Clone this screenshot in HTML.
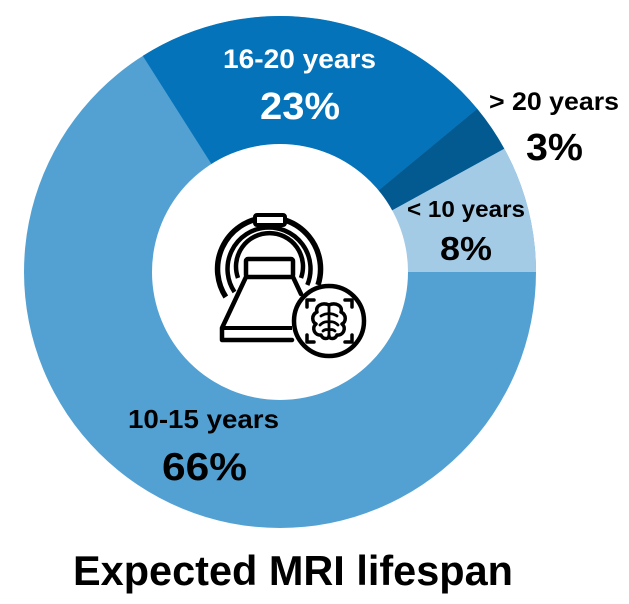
<!DOCTYPE html>
<html><head><meta charset="utf-8">
<style>
html,body{margin:0;padding:0;background:#fff;}
svg{display:block;}
text{font-family:"Liberation Sans",sans-serif;font-weight:bold;}
</style></head>
<body>
<svg width="629" height="604" viewBox="0 0 629 604" xmlns="http://www.w3.org/2000/svg">
<rect width="629" height="604" fill="#fff"/>
<!-- donut -->
<circle cx="280" cy="272" r="256" fill="#53a1d3"/>
<path d="M477.2,108.8 A256,256 0 0 0 142.8,55.9 L280,272 Z" fill="#0473ba"/>
<path d="M504.3,148.7 A256,256 0 0 0 477.2,108.8 L280,272 Z" fill="#035a90"/>
<path d="M536,272 A256,256 0 0 0 504.3,148.7 L280,272 Z" fill="#a4cbe6"/>
<circle cx="280" cy="272" r="128" fill="#fff"/>

<!-- MRI icon -->
<g fill="none" stroke="#000" stroke-linejoin="round">
  <path d="M225.8,297 A51.5,51.5 0 1 1 318,285" stroke-width="5.5"/>
  <path d="M234.5,292 A41.5,41.5 0 1 1 307.3,285" stroke-width="4.5"/>
  <path d="M238,278 A33.5,33.5 0 1 1 301,278" stroke-width="4.5"/>
  <rect x="255" y="215" width="30" height="10" rx="2" fill="#fff" stroke-width="4"/>
  <rect x="246" y="259" width="47" height="18" rx="2" fill="#fff" stroke-width="4.5"/>
  <path d="M246,277 L222,328 L222,340 L292,340 M293,277 L301,294" stroke-width="4.5" stroke-linecap="round"/>
  <path d="M222,328 L292,328" stroke-width="4"/>
  <circle cx="329" cy="321" r="35" fill="#fff" stroke-width="4.5"/>
  <path d="M307,307 L307,300 L314,300 M345,300 L352,300 L352,307 M307,335 L307,342 L314,342 M345,342 L352,342 L352,335" stroke-width="3.5" stroke-linecap="round"/>
  <path d="M329,305 C322,302 315,306 317,312 C311,315 312,322 316,324 C311,328 315,336 321,335 C323,340 329,339 329,336 C329,339 335,340 337,335 C343,336 347,328 342,324 C346,322 347,315 341,312 C343,306 336,302 329,305 Z" stroke-width="3.5"/>
  <path d="M329,306 L329,336 M329,314 C325,313 323,315 321,316 M329,314 C333,313 335,315 337,316 M329,322 C325,321 322,323 320,325 M329,322 C333,321 336,323 338,325 M329,330 C326,329 324,330 323,331 M329,330 C332,329 334,330 335,331" stroke-width="2.8" stroke-linecap="round"/>
</g>

<!-- labels -->
<text x="299.5" y="68" font-size="27" fill="#fff" text-anchor="middle" textLength="153" lengthAdjust="spacingAndGlyphs">16-20 years</text>
<text x="300" y="119" font-size="38" fill="#fff" text-anchor="middle" textLength="80" lengthAdjust="spacingAndGlyphs">23%</text>
<text x="554" y="110" font-size="25" fill="#000" text-anchor="middle" textLength="130" lengthAdjust="spacingAndGlyphs">&gt; 20 years</text>
<text x="554.5" y="160" font-size="38" fill="#000" text-anchor="middle" textLength="57" lengthAdjust="spacingAndGlyphs">3%</text>
<text x="466" y="217" font-size="23" fill="#000" text-anchor="middle" textLength="118" lengthAdjust="spacingAndGlyphs">&lt; 10 years</text>
<text x="466" y="260" font-size="33" fill="#000" text-anchor="middle" textLength="52" lengthAdjust="spacingAndGlyphs">8%</text>
<text x="203.5" y="428" font-size="26" fill="#000" text-anchor="middle" textLength="151" lengthAdjust="spacingAndGlyphs">10-15 years</text>
<text x="204.5" y="480" font-size="39" fill="#000" text-anchor="middle" textLength="85" lengthAdjust="spacingAndGlyphs">66%</text>
<text x="293" y="585" font-size="42" fill="#000" text-anchor="middle" textLength="440" lengthAdjust="spacingAndGlyphs">Expected MRI lifespan</text>
</svg>
</body></html>
